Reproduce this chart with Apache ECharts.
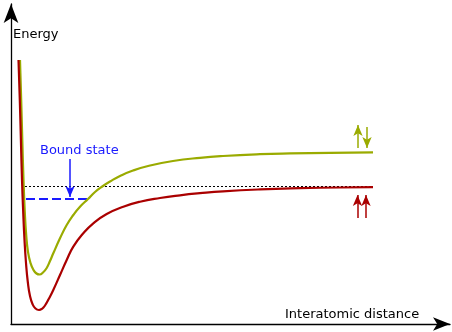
<!DOCTYPE html>
<html>
<head>
<meta charset="utf-8">
<script src="https://cdn.jsdelivr.net/npm/echarts@6/dist/echarts.min.js"></script>
<style>
  html, body { margin: 0; padding: 0; background: #fff; }
  #chart { width: 452px; height: 332px; }
</style>
</head>
<body>
<div id="chart"></div>
<script>
// Potential energy curves (arbitrary units): [interatomic distance, energy]
const singletCurve = [
  [7.5, 264], [8.8, 224], [9.9, 184], [11, 144], [12.2, 112], [13.5, 84],
  [15, 61], [16.8, 42], [19, 28], [21.5, 20], [24.5, 15.5], [28, 14],
  [31, 15.2], [34, 18.5], [38, 25.5], [42.3, 34], [49, 49], [55.7, 64],
  [62.3, 77.3], [72.3, 90.7], [82.3, 100.7], [95.7, 110], [112.3, 117.3],
  [129, 122.3], [149, 126], [169, 128.7], [189, 130.8], [212, 132.7],
  [249, 134.6], [289, 135.8], [329, 136.5], [362, 136.8]
];
const tripletCurve = [
  [9, 264], [10.2, 224], [11.3, 184], [12.5, 144], [13.8, 112], [15.2, 89],
  [17, 72], [19.5, 61], [22.5, 54], [25.5, 50.5], [28.5, 49.5], [32, 51.5],
  [35.7, 56], [39, 63], [42.3, 70.7], [49, 85.7], [55.7, 99], [62.3, 109],
  [69, 117.3], [77, 125], [84, 132], [92, 138], [99, 142.5], [109, 148],
  [122, 153.5], [139, 158.5], [162, 163], [189, 166.2], [212, 168],
  [249, 169.8], [279, 170.6], [319, 171.2], [362, 171.6]
];
// Dissociation reference level and bound-state level
const dissociationLevel = [[14, 137.5], [362, 137.5]];
const boundLevel = [[15, 125], [77, 125]];
// Arrows: [x, from, to]
const boundArrow = [59, 165, 127];
const tripletSpins = [[347, 176, 199], [356, 197, 176]];
const singletSpins = [[346.5, 106, 129], [355, 106, 129]];

const RED = '#aa0000';
const GREEN = '#9aab00';
const BLUE = '#1a1aff';
const FONT_FAMILY = 'DejaVu Sans';

function arrowLines(list) {
  return list.map(a => [{ coord: [a[0], a[1]] }, { coord: [a[0], a[2]] }]);
}

function arrowSeries(list, color, size) {
  return {
    type: 'line',
    data: [],
    silent: true,
    markLine: {
      silent: true,
      animation: false,
      symbol: ['none', 'arrow'],
      symbolSize: size,
      label: { show: false },
      lineStyle: { color: color, width: 1.5, type: 'solid' },
      emphasis: { disabled: true },
      data: arrowLines(list)
    }
  };
}

function label(text, x, y, color) {
  return {
    type: 'text', x: x, y: y, silent: true,
    style: { text: text, fontSize: 13, fontFamily: FONT_FAMILY, fill: color, verticalAlign: 'middle' }
  };
}

const chart = echarts.init(document.getElementById('chart'), null, { renderer: 'canvas' });
chart.setOption({
  animation: false,
  grid: { left: 11, right: 2, top: 4, bottom: 8 },
  xAxis: {
    type: 'value', min: 0, max: 439,
    axisLine: { show: true, symbol: ['none', 'arrow'], symbolSize: [10, 17],
      lineStyle: { color: '#000', width: 1.3 } },
    axisTick: { show: false }, axisLabel: { show: false }, splitLine: { show: false }
  },
  yAxis: {
    type: 'value', min: 0, max: 320,
    axisLine: { show: true, symbol: ['none', 'arrow'], symbolSize: [11, 19],
      lineStyle: { color: '#000', width: 1.3 } },
    axisTick: { show: false }, axisLabel: { show: false }, splitLine: { show: false }
  },
  series: [
    {
      type: 'line', data: dissociationLevel, showSymbol: false, silent: true,
      lineStyle: { color: '#000', width: 1, type: [2, 2] }
    },
    {
      type: 'line', data: boundLevel, showSymbol: false, silent: true,
      lineStyle: { color: BLUE, width: 2, type: [9, 4] }
    },
    {
      type: 'line', data: tripletCurve, showSymbol: false, silent: true, smooth: 0.5,
      lineStyle: { color: GREEN, width: 2.2 }
    },
    {
      type: 'line', data: singletCurve, showSymbol: false, silent: true, smooth: 0.5,
      lineStyle: { color: RED, width: 2.2 }
    },
    arrowSeries([boundArrow], BLUE, [7, 11]),
    arrowSeries(tripletSpins, GREEN, [7, 11]),
    arrowSeries(singletSpins, RED, [7, 11])
  ],
  graphic: [
    label('Energy', 13, 35, '#000'),
    label('Interatomic distance', 285, 315, '#000'),
    label('Bound state', 40, 150.5, BLUE)
  ]
});
</script>
</body>
</html>
